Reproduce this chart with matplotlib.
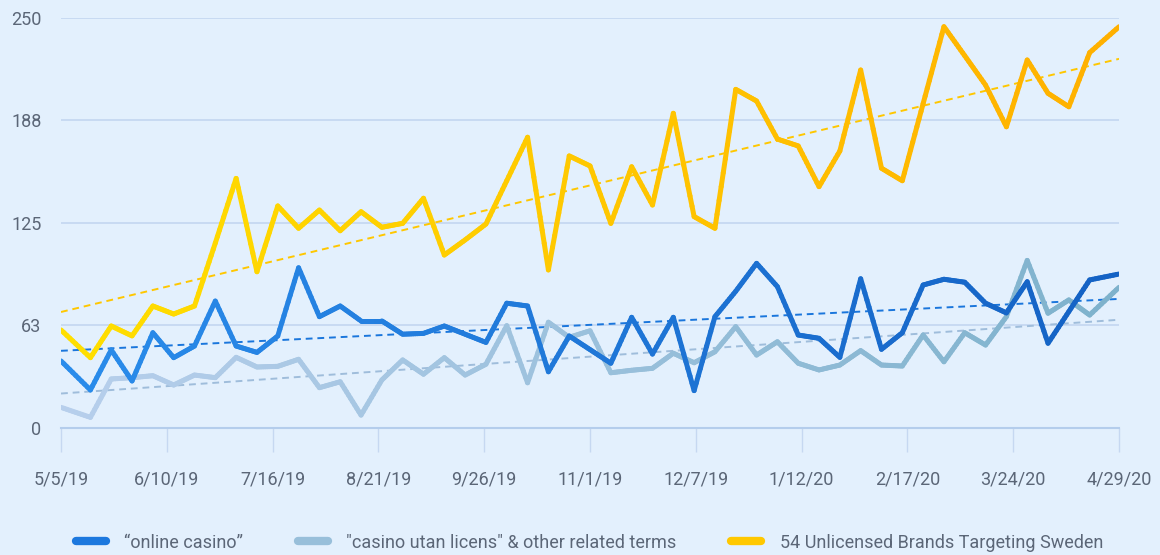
import numpy as np
import pandas as pd
import matplotlib
matplotlib.use("Agg")
import matplotlib.pyplot as plt
import matplotlib.dates as mdates
from matplotlib.collections import LineCollection
from matplotlib.colors import LinearSegmentedColormap
from matplotlib.lines import Line2D

# dates: first and last points are partial weeks, the rest are ~weekly
first_date = "2019-05-05"
weekly_start = "2019-05-15"
weekly_end = "2020-04-19"
last_date = "2020-04-29"

online_casino = [40.7, 23, 47.4, 28.5, 57.9, 42.7, 49.8, 77.2, 49.8, 45.9,
                 55.9, 97.5, 67.7, 74.2, 65.1, 65.1, 57, 57.5, 62, 57,
                 52, 75.9, 74.2, 34.1, 55.9, 47.6, 39.3, 67.3, 44.9, 67.3,
                 22.6, 67.7, 83.2, 100.2, 86, 56.5, 54.5, 42.9, 90.8, 47.8,
                 57.9, 87, 90.5, 88.7, 75.9, 70, 89, 51.5, 70.8, 90.1, 93.7]
utan_licens = [12.4, 6.3, 29.7, 30.5, 31.7, 26, 32.1, 30.5, 42.9, 37,
               37.4, 41.7, 24.4, 28, 7.7, 29.1, 41.3, 32.6, 42.7, 32.1,
               38.7, 62.2, 27.4, 64.3, 55.1, 59.1, 33.5, 35, 36.2, 45.4,
               39.6, 46.3, 61.6, 44.3, 52.4, 39.3, 35.2, 38.2, 47, 38.2,
               37.6, 56.5, 40.2, 57.9, 50.4, 67.7, 102, 69.8, 77.9, 68.7, 85.6]
unlicensed_brands = [59.6, 42.7, 62, 56, 74.2, 69.3, 74.2, 112.6, 152, 95.1,
                     135.2, 121.6, 132.7, 120.1, 131.7, 122.2, 124.6, 139.9, 105.3, 114.5,
                     124.2, 150.6, 177.1, 96.2, 165.7, 159.6, 124.6, 159.1, 135.8, 191.7,
                     128.7, 121.6, 206.3, 199.2, 176, 171.8, 147, 168.7, 218.1, 158.2,
                     150.6, 197.6, 244.5, 226.8, 208.9, 183.5, 224.2, 203.9, 195.7, 228.7, 244.5]

series_names = ["\u201conline casino\u201d",
                "\"casino utan licens\" & other related terms",
                "54 Unlicensed Brands Targeting Sweden"]

tick_dates = ["2019-05-05", "2019-06-10", "2019-07-16", "2019-08-21", "2019-09-26",
              "2019-11-01", "2019-12-07", "2020-01-12", "2020-02-17", "2020-03-24", "2020-04-29"]
tick_labels = ["5/5/19", "6/10/19", "7/16/19", "8/21/19", "9/26/19", "11/1/19",
               "12/7/19", "1/12/20", "2/17/20", "3/24/20", "4/29/20"]
y_ticks = [0, 62.5, 125, 187.5, 250]
y_labels = ["0", "63", "125", "188", "250"]

dates = ([pd.Timestamp(first_date)]
         + list(pd.date_range(weekly_start, weekly_end, periods=49))
         + [pd.Timestamp(last_date)])
xnum = mdates.date2num(dates)

BG = "#E3F0FD"
TEXT = "#5B6677"
plt.rcParams['font.family'] = ['Roboto', 'DejaVu Sans']


def gradient_line(ax, x, y, c0, c1, lw, z):
    xs, ys = [], []
    for i in range(len(x) - 1):
        t = np.linspace(0, 1, 10, endpoint=False)
        xs.extend(x[i] + t * (x[i + 1] - x[i]))
        ys.extend(y[i] + t * (y[i + 1] - y[i]))
    xs.append(x[-1])
    ys.append(y[-1])
    pts = np.column_stack([xs, ys])
    segs = np.stack([pts[:-1], pts[1:]], axis=1)
    cmap = LinearSegmentedColormap.from_list("g", [c0, c1])
    lc = LineCollection(segs, cmap=cmap, linewidths=lw, capstyle="round", zorder=z)
    mids = (np.array(xs[:-1]) + np.array(xs[1:])) / 2
    lc.set_array((mids - mids.min()) / (mids.max() - mids.min()))
    ax.add_collection(lc)


fig = plt.figure(figsize=(11.6, 5.55), dpi=100, facecolor=BG)
ax = fig.add_axes([0.0526, 0.2294, 0.9121, 0.7387], facecolor=BG)

styles = [
    (online_casino, "#2A8CEB", "#1462C4", "#1A76DC"),
    (utan_licens, "#B7CFEC", "#7EB2CC", "#9FBDDB"),
    (unlicensed_brands, "#FFDF00", "#FFB000", "#FFC700"),
]

# dashed linear trend for each series
for vals, c0, c1, ct in styles:
    v = np.array(vals)
    k, b = np.polyfit(xnum, v, 1)
    ax.plot(xnum, k * xnum + b, color=ct, lw=1.4, ls=(0, (3.5, 2.5)), zorder=2)

for vals, c0, c1, ct in [styles[1], styles[0], styles[2]]:
    gradient_line(ax, xnum, np.array(vals), c0, c1, 3.6, 3)

ax.set_xlim(mdates.date2num(pd.Timestamp(tick_dates[0])),
            mdates.date2num(pd.Timestamp(tick_dates[-1])))
ax.set_ylim(0, 250)
ax.set_xticks(mdates.date2num(pd.to_datetime(tick_dates)))
ax.set_xticklabels(tick_labels)
ax.set_yticks(y_ticks)
ax.set_yticklabels(y_labels)

ax.grid(axis="y", color="#C6D8F1", lw=1.3)
ax.set_axisbelow(True)
for s in ["top", "right", "left"]:
    ax.spines[s].set_visible(False)
ax.spines["bottom"].set_color("#B4CDEC")
ax.spines["bottom"].set_linewidth(1.5)
ax.spines["bottom"].set_zorder(4)
ax.tick_params(axis="x", length=17, width=1, color="#C6D8F1", labelcolor=TEXT,
               labelsize=13, pad=14)
ax.tick_params(axis="y", length=0, labelsize=13, labelcolor=TEXT, pad=14)

handles = [Line2D([0], [0], color=c, lw=6, solid_capstyle="round")
           for c in ["#1C78DE", "#98BFDA", "#FFC800"]]
fig.legend(handles, series_names, loc="center", bbox_to_anchor=(0.508, 0.022),
           ncol=3, frameon=False, fontsize=13, labelcolor=TEXT,
           handlelength=1.7, handletextpad=1.0, columnspacing=3.0)

fig.savefig("out.png", dpi=100, facecolor=BG)
